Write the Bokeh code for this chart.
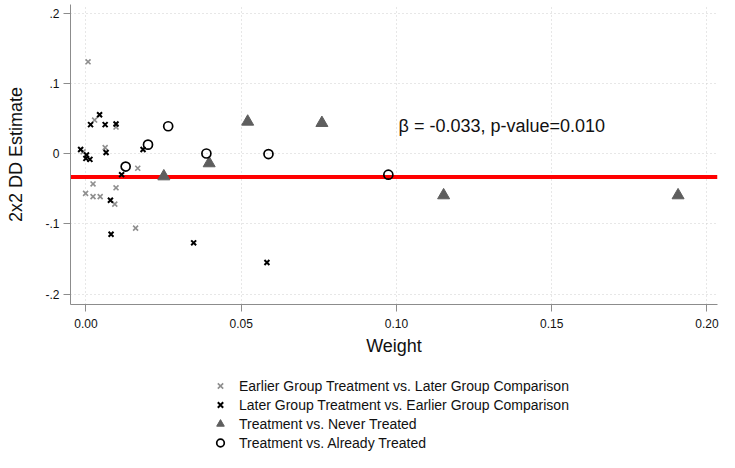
from bokeh.plotting import figure
from bokeh.layouts import column
from bokeh.models import (Range1d, Span, Label, Legend, LegendItem, FixedTicker,
                          CustomJSTickFormatter, NumeralTickFormatter)
from bokeh.embed import file_html
from bokeh.resources import INLINE

# ---- data ----
earlier_w = [0.0007, 0.0028, 0.0097, 0.0062, -0.0009, 0.0167, 0.0023, 0.0097,
             -0.0001, 0.0023, 0.0046, 0.0093, 0.0160]
earlier_b = [0.131, 0.048, 0.038, 0.0088, 0.0028, -0.0206, -0.043, -0.0485,
             -0.0564, -0.0611, -0.0611, -0.0717, -0.1059]

later_w = [0.0015, 0.0044, 0.0062, 0.0097, -0.0017, 0.0002, 0.0000, 0.0013,
           0.0065, 0.0184, 0.0115, 0.0079, 0.0081, 0.0347, 0.0583]
later_b = [0.0415, 0.0555, 0.0415, 0.0424, 0.006, -0.0018, -0.0066, -0.008,
           0.0018, 0.006, -0.0298, -0.0662, -0.1147, -0.1269, -0.1548]

never_w = [0.0251, 0.0397, 0.0521, 0.0760, 0.1152, 0.1907]
never_b = [-0.0322, -0.0136, 0.0457, 0.0438, -0.0592, -0.0592]

already_w = [0.0265, 0.0200, 0.0128, 0.0388, 0.0588, 0.0974]
already_b = [0.0392, 0.013, -0.0182, 0.0004, -0.0004, -0.0298]

beta = -0.033
pvalue = 0.010
annot_x = 0.1007
annot_y = 0.039

x_ticks = [0.0, 0.05, 0.10, 0.15, 0.20]
y_ticks = [-0.2, -0.1, 0.0, 0.1, 0.2]

series_labels = ["Earlier Group Treatment vs. Later Group Comparison",
                 "Later Group Treatment vs. Earlier Group Comparison",
                 "Treatment vs. Never Treated",
                 "Treatment vs. Already Treated"]

FONT = "Liberation Sans"
TXT = "#111111"
AXC = "#8c8c8c"

STY = [dict(marker="x", size=7, line_color="#8f8f8f", line_width=1.6),
       dict(marker="x", size=7, line_color="#000000", line_width=2),
       dict(marker="triangle", size=12, fill_color="#5e5e5e",
            line_color="#5e5e5e", line_width=1),
       dict(marker="circle", size=9, fill_color=None, line_color="#000000",
            line_width=1.7)]

p = figure(width=719, height=374, output_backend="svg", toolbar_location=None,
           title=None, x_range=Range1d(-0.00496, 0.2034),
           y_range=Range1d(-0.2147, 0.2126),
           min_border_left=70, min_border_right=2, min_border_top=4,
           min_border_bottom=70)
p.outline_line_color = None
p.background_fill_color = "white"

for g in (p.xgrid, p.ygrid):
    g.grid_line_color = "#cfcfcf"
    g.grid_line_dash = "1 3"
    g.grid_line_width = 1

p.xaxis.ticker = FixedTicker(ticks=x_ticks)
p.yaxis.ticker = FixedTicker(ticks=y_ticks)
p.xaxis.formatter = NumeralTickFormatter(format="0.00")
p.yaxis.formatter = CustomJSTickFormatter(code="""
    if (Math.abs(tick) < 1e-9) { return "0"; }
    return tick.toFixed(1).replace("0.", ".");
""")
for ax in (p.xaxis, p.yaxis):
    ax.axis_line_color = AXC
    ax.major_tick_line_color = AXC
    ax.minor_tick_line_color = None
    ax.major_tick_out = 7
    ax.major_tick_in = 0
    ax.major_label_text_font = FONT
    ax.major_label_text_font_size = "12px"
    ax.major_label_text_color = TXT
    ax.axis_label_text_font = FONT
    ax.axis_label_text_font_size = "18px"
    ax.axis_label_text_font_style = "normal"
    ax.axis_label_text_color = TXT
p.xaxis.axis_label = "Weight"
p.yaxis.axis_label = "2x2 DD Estimate"
p.xaxis.major_label_standoff = 7
p.xaxis.axis_label_standoff = 5
p.yaxis.major_label_standoff = 4
p.yaxis.axis_label_standoff = 16
p.yaxis.major_label_orientation = "horizontal"

p.add_layout(Span(location=beta, dimension="width", line_color="#ff0000",
                  line_width=4, level="underlay"))

xs = [earlier_w, later_w, never_w, already_w]
ys = [earlier_b, later_b, never_b, already_b]
for w, b, st in zip(xs, ys, STY):
    p.scatter(w, b, **st)

p.add_layout(Label(x=annot_x, y=annot_y,
                   text=f"β = {beta:.3f}, p-value={pvalue:.3f}",
                   text_font=FONT, text_font_size="18px", text_color=TXT,
                   text_baseline="middle", text_align="left"))

# legend strip below the plot; its renderers reuse the series but the strip's
# ranges keep them out of view, so only the legend keys are drawn
lg = figure(width=719, height=78, output_backend="svg", toolbar_location=None,
            title=None, x_axis_type=None, y_axis_type=None,
            min_border=0, x_range=Range1d(5, 6), y_range=Range1d(5, 6))
lg.outline_line_color = None
lg.xgrid.visible = False
lg.ygrid.visible = False
items = []
for lab, w, b, st in zip(series_labels, xs, ys, STY):
    r = lg.scatter(w, b, **st)
    items.append(LegendItem(label=lab, renderers=[r]))
legend = Legend(items=items, location=(140, 0), orientation="vertical",
                padding=0, margin=0, spacing=0,
                glyph_width=20, glyph_height=19, label_height=19,
                label_standoff=9, border_line_color=None,
                background_fill_alpha=0,
                label_text_font=FONT, label_text_font_size="14px",
                label_text_color=TXT)
lg.add_layout(legend, "center")

layout = column(p, lg, spacing=0)
open("out.html", "w").write(file_html(layout, INLINE))
